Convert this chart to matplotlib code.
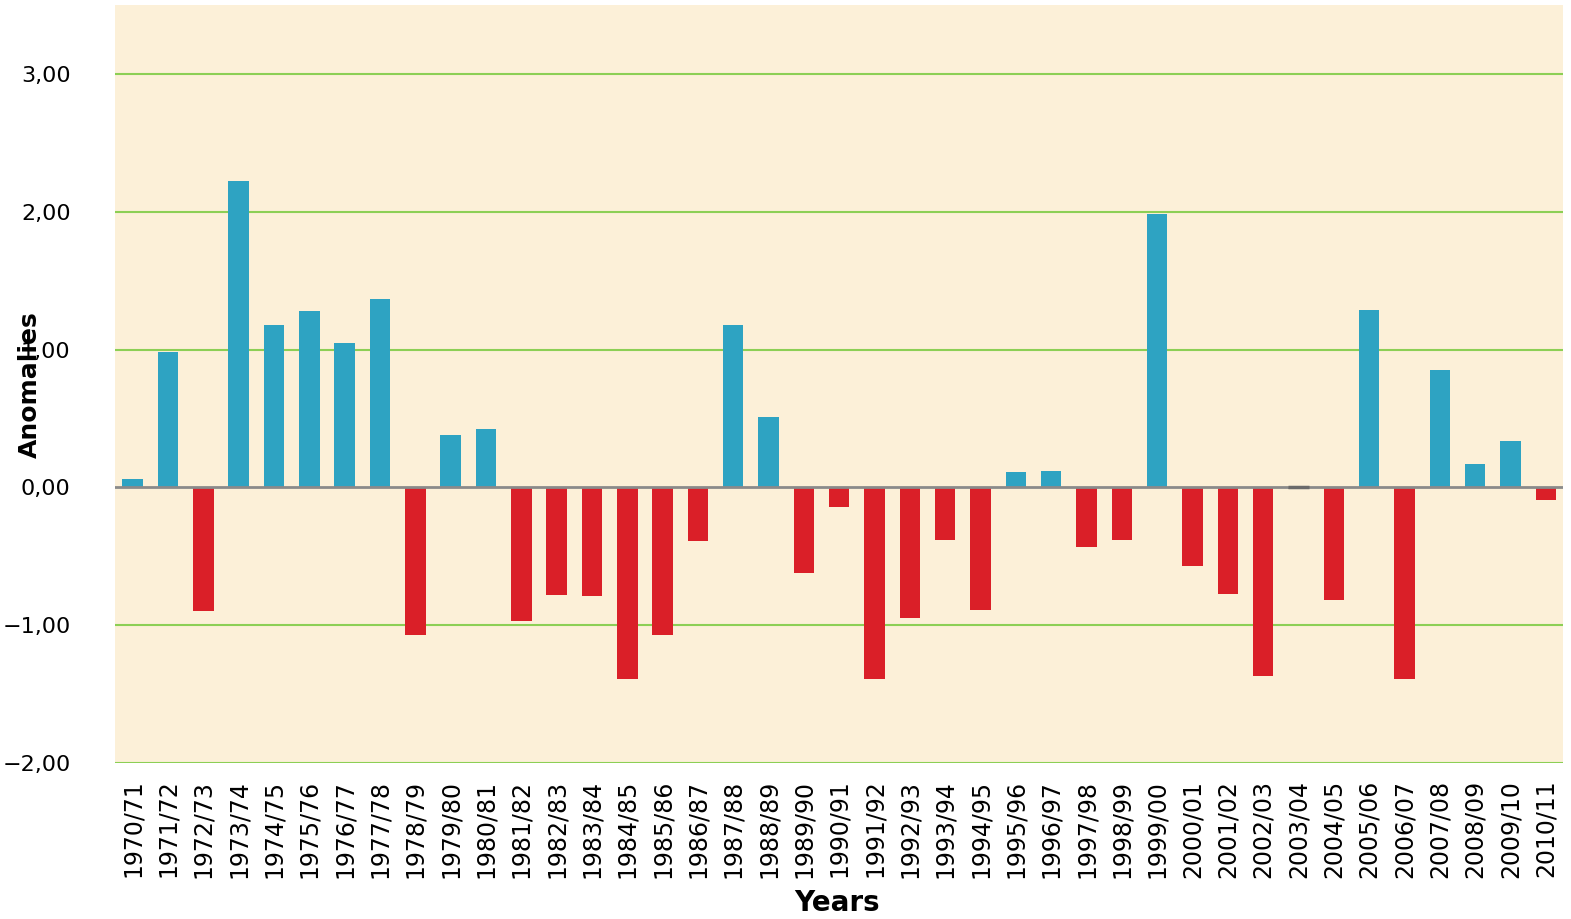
import matplotlib.pyplot as plt

seasons = ['1970/71', '1971/72', '1972/73', '1973/74', '1974/75', '1975/76', '1976/77',
           '1977/78', '1978/79', '1979/80', '1980/81', '1981/82', '1982/83', '1983/84',
           '1984/85', '1985/86', '1986/87', '1987/88', '1988/89', '1989/90', '1990/91',
           '1991/92', '1992/93', '1993/94', '1994/95', '1995/96', '1996/97', '1997/98',
           '1998/99', '1999/00', '2000/01', '2001/02', '2002/03', '2003/04', '2004/05',
           '2005/06', '2006/07', '2007/08', '2008/09', '2009/10', '2010/11']
anomalies = [0.06, 0.98, -0.90, 2.22, 1.18, 1.28, 1.05,
             1.37, -1.07, 0.38, 0.42, -0.97, -0.78, -0.79,
             -1.39, -1.07, -0.39, 1.18, 0.51, -0.62, -0.14,
             -1.39, -0.95, -0.38, -0.89, 0.11, 0.12, -0.43,
             -0.38, 1.98, -0.57, -0.77, -1.37, -0.01, -0.82,
             1.29, -1.39, 0.85, 0.17, 0.34, -0.09]
yticks = [-2, -1, 0, 1, 2, 3]
ytick_labels = ['\u22122,00', '\u22121,00', '0,00', '1,00', '2,00', '3,00']

blue = '#2ea3c2'
red = '#da1f28'
colors = []
for v in anomalies:
    if abs(v) < 0.02:
        colors.append('#6a6a6a')  # almost zero -> just a dark stub on the axis
    elif v > 0:
        colors.append(blue)
    else:
        colors.append(red)

fig = plt.figure(figsize=(15.71, 9.19), dpi=100)
ax = fig.add_axes([0.0732, 0.1697, 0.9220, 0.8249])
ax.set_facecolor('#fcf0d8')

# grid lines (green) and zero line (grey)
for y in yticks:
    if y == 0:
        continue
    ax.axhline(y, color='#8ccf55', linewidth=1.5, zorder=1)
ax.axhline(0, color='#8a8a8a', linewidth=2, zorder=3)

x = range(len(seasons))
ax.bar(x, anomalies, width=0.58, color=colors, zorder=2)
# near-zero bar drawn on top of the zero line
ax.bar([i for i, v in enumerate(anomalies) if abs(v) < 0.02], [0.0] * sum(abs(v) < 0.02 for v in anomalies),
       width=0.58, edgecolor='#6a6a6a', linewidth=2.5, zorder=4)

ax.set_xlim(-0.5, len(seasons) - 0.5)
ax.set_ylim(-2, 3.5)
ax.set_yticks(yticks)
ax.set_yticklabels(ytick_labels, fontsize=16)
ax.set_xticks(list(x))
ax.set_xticklabels(seasons, rotation=90, fontsize=17)
ax.tick_params(axis='y', length=0, pad=32)
ax.tick_params(axis='x', length=0, pad=12)
for s in ax.spines.values():
    s.set_visible(False)

fig.text(0.019, 0.581, 'Anomalies', rotation=90, fontsize=18, fontweight='bold',
         ha='center', va='center')
fig.text(0.533, 0.017, 'Years', fontsize=20, fontweight='bold', ha='center', va='center')

fig.savefig('out.png', dpi=100)
